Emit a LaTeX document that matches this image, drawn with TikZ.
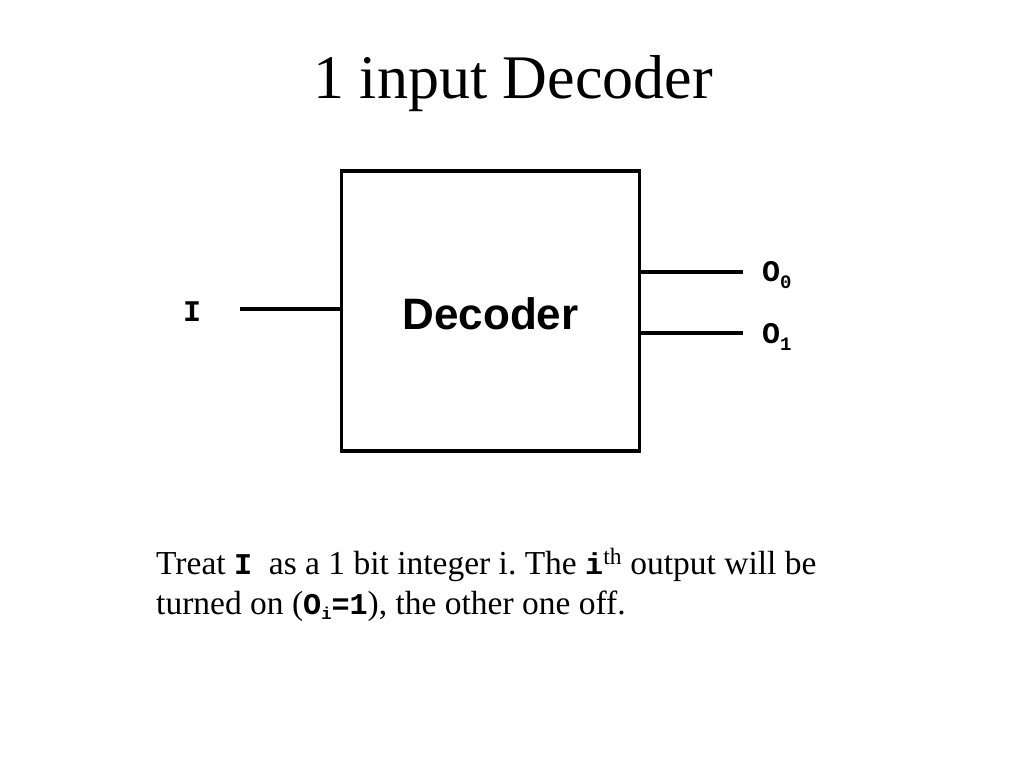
\documentclass[tikz,border=0pt]{standalone}
\usepackage{fontspec}
\setmainfont{Liberation Serif}
\newfontfamily\helv{Liberation Sans}
\newfontfamily\cour{Liberation Mono}
\newfontfamily\courtxt[Scale=0.9]{Liberation Mono}
\newcommand{\subdigit}[1]{\raisebox{-0.45ex}{\fontsize{19}{21}\selectfont #1}}
\begin{document}
\begin{tikzpicture}[x=1pt,y=-1pt,
  wire/.style={line width=3.5pt},
  lbl/.style={font=\cour\bfseries\fontsize{30}{32}\selectfont, inner sep=0pt},
]
\useasboundingbox (0,0) rectangle (1024,768);
\node[font=\fontsize{62}{66}\selectfont, inner sep=0pt, anchor=base] (title) at (513,98) {1 input Decoder};
\node[draw, line width=3.5pt, minimum width=298pt, minimum height=280pt, inner sep=0pt] (dec) at (490.5,311) {};
\node[font=\helv\bfseries\fontsize{44}{46}\selectfont, inner sep=0pt] (dectext) at (490.5,314) {Decoder};
\coordinate (iend) at (240,309);
\coordinate (o0end) at (743,272);
\coordinate (o1end) at (743,333);
\draw[wire] (iend) -- (iend -| dec.west);
\draw[wire] (o0end -| dec.east) -- (o0end);
\draw[wire] (o1end -| dec.east) -- (o1end);
\node[lbl] (ilbl) at (192,312) {I};
\node[lbl, anchor=west] (o0) at (762,275) {O\subdigit{0}};
\node[lbl, anchor=west] (o1) at (762,337) {O\subdigit{1}};
\node[anchor=base west, inner sep=0pt, align=left, font=\fontsize{33.5}{40}\selectfont\frenchspacing] (txt) at (156,614)
 {Treat {\courtxt\bfseries I}\ \ as a 1 bit integer i. The {\courtxt\bfseries i}\textsuperscript{th} output will be\\
  turned on ({\courtxt\bfseries O\raisebox{-0.35ex}{\fontsize{19}{21}\selectfont i}=1}), the other one off.};
\end{tikzpicture}
\end{document}
